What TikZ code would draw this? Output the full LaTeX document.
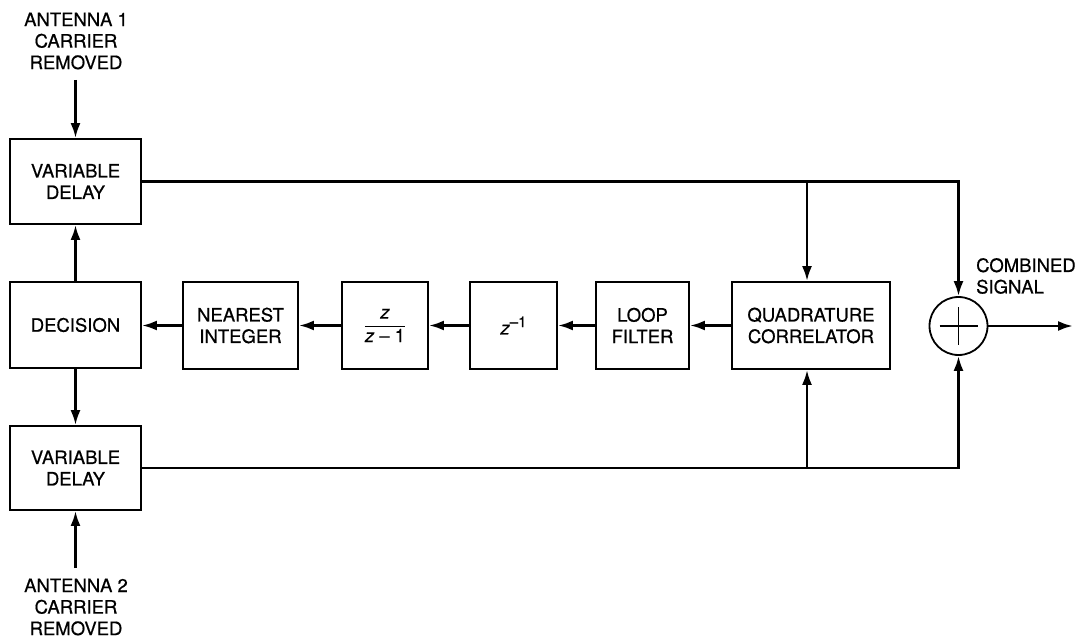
\documentclass[tikz,border=0pt]{standalone}
\usepackage{fontspec}
\setmainfont{TeX Gyre Heros}[FakeBold=0.6]
\usetikzlibrary{arrows.meta}
\begin{document}
\begin{tikzpicture}[x=1pt,y=-1pt,
  txt/.style={font=\fontsize{18.5}{21.5}\selectfont},
  blk/.style={draw, line width=1.8pt, rectangle, minimum height=87pt, inner sep=0pt, align=center, txt},
  lbl/.style={align=center, inner sep=0pt, txt},
  conn/.style={line width=2.6pt},
  arr/.style={conn, -{Latex[length=15pt,width=10pt]}}]
\useasboundingbox (0,0) rectangle (1087,639);

\node[blk, minimum width=131pt, minimum height=85pt] (vd1) at (75.5,181.5) {VARIABLE\\DELAY};
\node[blk, minimum width=131pt, minimum height=86pt] (dec) at (75.5,325) {DECISION};
\node[blk, minimum width=131pt, minimum height=84pt] (vd2) at (75.5,468) {VARIABLE\\DELAY};
\node[blk, minimum width=115pt] (ni) at (240.5,325.5) {NEAREST\\INTEGER};
\node[blk, minimum width=86pt] (acc) at (385,325.5) {$\displaystyle\frac{\mbox{\itshape z}}{\mbox{{\itshape z} -- 1}}$};
\node[blk, minimum width=87pt] (zinv) at (513.5,325.5) {{\itshape z}\raisebox{0.75ex}{\fontsize{15}{15}\selectfont --1}};
\node[blk, minimum width=93pt] (lf) at (642.5,325.5) {LOOP\\FILTER};
\node[blk, minimum width=158pt] (qc) at (811,325.5) {QUADRATURE\\CORRELATOR};
\node[circle, draw, line width=1.8pt, minimum size=58pt, inner sep=0pt] (sum) at (958.5,326) {};
\draw[line width=1.5pt] (sum.center) ++(-19,0) -- ++(38,0);
\draw[line width=1.5pt] (sum.center) ++(0,-19) -- ++(0,38);

\node[lbl] (a1) at (76,41) {ANTENNA 1\\CARRIER\\REMOVED};
\node[lbl] (a2) at (76,607) {ANTENNA 2\\CARRIER\\REMOVED};
\node[lbl, align=left, anchor=west] (cs) at (976,276) {COMBINED\\SIGNAL};

\coordinate (a1s) at (75.5,80);
\coordinate (a2s) at (75.5,568);
\coordinate (tj) at (807,181.5);
\coordinate (bj) at (807,468);
\coordinate (out) at (1073,326);

\draw[arr] (a1s) -- (vd1.north);
\draw[arr] (a2s) -- (vd2.south);
\draw[arr] (dec.north) -- (vd1.south);
\draw[arr] (dec.south) -- (vd2.north);
\draw[arr] (ni.west) -- (ni.west -| dec.east);
\draw[arr] (acc.west) -- (ni.east);
\draw[arr] (zinv.west) -- (acc.east);
\draw[arr] (lf.west) -- (zinv.east);
\draw[arr] (qc.west) -- (lf.east);
\draw[arr] (vd1.east) -| (sum.north);
\draw[arr] (tj) -- (tj |- qc.north);
\draw[arr] (vd2.east) -| (sum.south);
\draw[arr] (bj) -- (bj |- qc.south);
\draw[arr] (sum.east) -- (out);
\end{tikzpicture}
\end{document}
